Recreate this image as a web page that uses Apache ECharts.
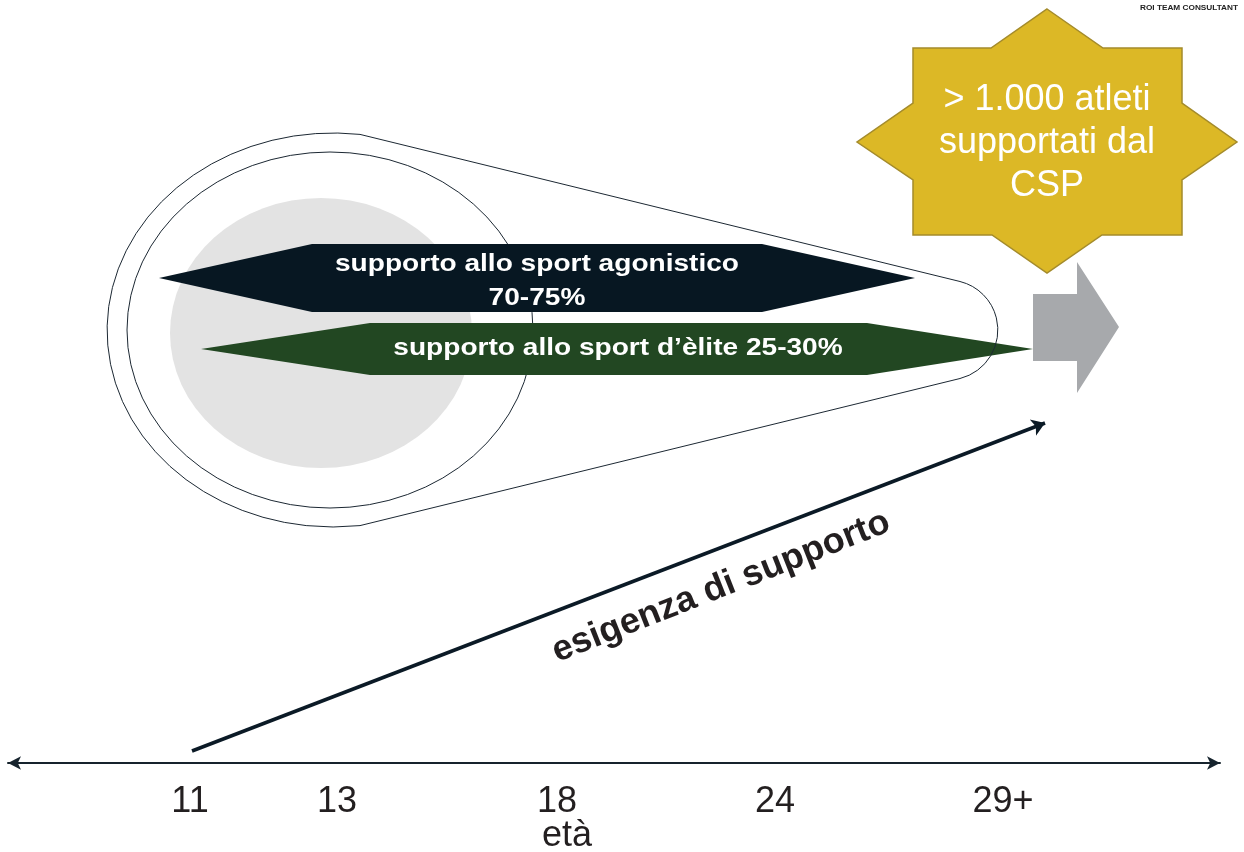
<!DOCTYPE html>
<html><head><meta charset="utf-8">
<script src="https://cdn.jsdelivr.net/npm/echarts@6/dist/echarts.min.js"></script>
<style>html,body{margin:0;padding:0;background:#fff}#c{width:1244px;height:852px}</style>
</head><body><div id="c"></div>
<script>
// ---- content ----
const ageLabels = ['11', '13', '18', '24', '29+'];
const agePositions = [190, 337, 557, 775, 1003];
const axisTitle = 'età';
const supportArrow = [[192, 751], [1045, 423]];
const supportLabel = 'esigenza di supporto';
const barAgonisticoLabel = 'supporto allo sport agonistico\n70-75%';
const barEliteLabel = 'supporto allo sport d’èlite 25-30%';
const starLabel = '> 1.000 atleti\nsupportati dal\nCSP';
const brandLabel = 'ROI TEAM CONSULTANT';

// ---- diagram geometry (data coordinates of the grid) ----
const grayDisc = { c: [321, 333], r: [151, 135] };
const innerRing = { c: [330, 330], r: [203, 178] };
const barAgonistico = [[159, 278], [312, 244], [762, 244], [915, 278], [762, 312], [312, 312]];
const barElite = [[201, 349], [370, 323], [867, 323], [1033, 349], [867, 375], [370, 375]];
const outline = { r: [226, 197], start: [360, 134.4], end: [360, 525.6], capBottom: [960, 378.5], capTop: [960, 281.5], capR: 50 };
const blockArrow = [[1033, 294], [1077, 294], [1077, 262], [1119, 327], [1077, 393], [1077, 361], [1033, 361]];
const star = [[1047, 9], [1103, 48], [1182, 48], [1182, 103], [1237, 142], [1182, 180], [1182, 235], [1102, 235],
  [1047, 273], [992, 235], [913, 235], [913, 180], [857, 142], [913, 103], [913, 48], [991, 48]];

const FONT = '"Liberation Sans", Arial, Helvetica, sans-serif';

const shapes = [
  { kind: 'ellipse', g: grayDisc, fill: '#e3e3e3' },
  { kind: 'ellipse', g: innerRing, stroke: '#1c2833' },
  { kind: 'poly', pts: barAgonistico, fill: '#071722' },
  { kind: 'poly', pts: barElite, fill: '#224722' },
  { kind: 'outline' },
  { kind: 'poly', pts: blockArrow, fill: '#a7a9ac' },
  { kind: 'poly', pts: star, fill: '#dcb826', stroke: '#a48b2b', lw: 1.5 },
  { kind: 'text', at: [537, 281], text: barAgonisticoLabel, size: 24, weight: 'bold', color: '#ffffff', lh: 34, sx: 1.17 },
  { kind: 'text', at: [618, 348], text: barEliteLabel, size: 24, weight: 'bold', color: '#ffffff', lh: 30, sx: 1.17 },
  { kind: 'text', at: [1047, 143], text: starLabel, size: 36, weight: 'normal', color: '#ffffff', lh: 43, sx: 1 },
  { kind: 'text', at: [721, 587], text: supportLabel, size: 36, weight: 'bold', color: '#231f20', lh: 40, sx: 1, rot: 21.5 },
  { kind: 'text', at: [567, 836], text: axisTitle, size: 36, weight: 'normal', color: '#231f20', lh: 40, sx: 1 },
  { kind: 'text', at: [1189, 8], text: brandLabel, size: 8, weight: 'bold', color: '#222222', lh: 10, sx: 1.03 }
];

function renderItem(params, api) {
  const s = shapes[params.dataIndex];
  const P = p => api.coord(p);
  const S = r => api.size(r).map(Math.abs);
  if (s.kind === 'poly') {
    return { type: 'polygon', shape: { points: s.pts.map(P) },
      style: { fill: s.fill, stroke: s.stroke || null, lineWidth: s.lw || 0 } };
  }
  if (s.kind === 'ellipse') {
    const c = P(s.g.c), r = S(s.g.r);
    const d = `M ${c[0] - r[0]} ${c[1]} A ${r[0]} ${r[1]} 0 1 0 ${c[0] + r[0]} ${c[1]} A ${r[0]} ${r[1]} 0 1 0 ${c[0] - r[0]} ${c[1]} Z`;
    return { type: 'path', shape: { pathData: d },
      style: s.fill ? { fill: s.fill } : { fill: 'none', stroke: s.stroke, lineWidth: 1 } };
  }
  if (s.kind === 'outline') {
    const a = P(outline.start), b = P(outline.end), cb = P(outline.capBottom), ct = P(outline.capTop);
    const r = S(outline.r), cr = S([outline.capR, outline.capR]);
    const d = `M ${a[0]} ${a[1]} A ${r[0]} ${r[1]} 0 1 0 ${b[0]} ${b[1]} L ${cb[0]} ${cb[1]} A ${cr[0]} ${cr[0]} 0 0 0 ${ct[0]} ${ct[1]} Z`;
    return { type: 'path', shape: { pathData: d }, style: { fill: 'none', stroke: '#1c2833', lineWidth: 1 } };
  }
  if (s.kind === 'text') {
    const p = P(s.at);
    return { type: 'text', x: p[0], y: p[1], scaleX: s.sx, rotation: (s.rot || 0) * Math.PI / 180,
      style: { text: s.text, fill: s.color, fontSize: s.size, fontWeight: s.weight, fontFamily: FONT,
        lineHeight: s.lh, align: 'center', verticalAlign: 'middle' } };
  }
  return null;
}

const chart = echarts.init(document.getElementById('c'), null, { renderer: 'canvas' });
chart.setOption({
  animation: false,
  backgroundColor: '#ffffff',
  grid: { left: 8, right: 24, top: 0, bottom: 89, containLabel: false, outerBoundsMode: 'none' },
  xAxis: {
    type: 'value', min: 8, max: 1220,
    axisLine: { show: true, onZero: false, symbol: ['arrow', 'arrow'], symbolSize: [10, 13],
      lineStyle: { color: '#16232d', width: 2 } },
    axisTick: { show: false },
    splitLine: { show: false },
    axisLabel: {
      customValues: agePositions,
      formatter: v => { const i = agePositions.indexOf(v); return i >= 0 ? ageLabels[i] : ''; },
      fontSize: 36, color: '#231f20', fontFamily: FONT, margin: 21
    }
  },
  yAxis: { type: 'value', min: 0, max: 763, inverse: true, show: false },
  series: [
    {
      type: 'custom', coordinateSystem: 'cartesian2d', clip: false, silent: true,
      data: shapes.map((s, i) => [i, 0]),
      renderItem: renderItem
    },
    {
      type: 'lines', coordinateSystem: 'cartesian2d', silent: true,
      data: [{ coords: supportArrow }],
      symbol: ['none', 'arrow'], symbolSize: 13,
      lineStyle: { color: '#0b1a26', width: 3.5, opacity: 1, curveness: 0 }
    }
  ]
});
</script></body></html>
